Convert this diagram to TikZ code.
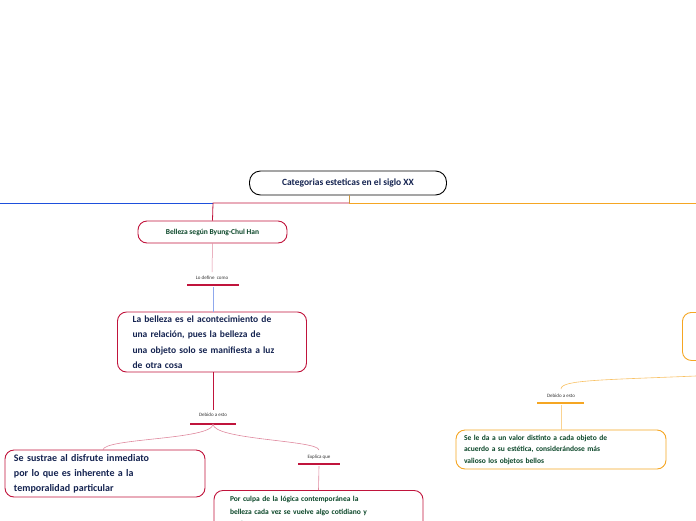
\documentclass[tikz,border=0pt]{standalone}
\usepackage{fontspec}
\setmainfont{Carlito}
\begin{document}
\begin{tikzpicture}[x=1pt,y=-1pt,
  box/.style={draw=#1,line width=0.9pt,rounded corners=9pt,inner sep=0pt,align=left},
  lab/.style={font=\fontsize{5}{6}\selectfont,text=black!80},
  navy/.style={text={rgb,255:red,20;green,35;blue,80},font=\bfseries},
  grn/.style={text={rgb,255:red,10;green,70;blue,40},font=\bfseries}]
\definecolor{cred}{RGB}{192,20,60}
\definecolor{corg}{RGB}{245,166,35}
\definecolor{cblue}{RGB}{30,80,220}
\useasboundingbox (0,0) rectangle (696,520);
\clip (0,0) rectangle (696,520);
\node[box=black,minimum width=197pt,minimum height=24pt,rounded corners=11pt,navy,font=\bfseries\fontsize{9.5}{11}\selectfont] (top) at (348,183) {Categorias esteticas en el siglo XX};
\coordinate (j) at (349,203);
\coordinate (k) at (213,203);
\draw[corg!60!gray,line width=0.8pt] (349,195) -- (j);
\draw[cblue,line width=0.8pt] (0,203) -- (k);
\draw[corg,line width=0.8pt] (j) -- (696,203);
\node[box=cred,minimum width=149pt,minimum height=22pt,grn,font=\bfseries\fontsize{7.5}{9}\selectfont] (b) at (212.5,232) {Belleza según Byung-Chul Han};
\draw[cred,line width=0.8pt] (j) -- (k) -- (b.north);
\node[lab] (l1) at (212,277.5) {Lo define \ como};
\draw[cred,line width=1.2pt] (187,285) -- (239,285);
\draw[cred!50,line width=0.5pt] (b.south) -- (l1.north);
\node[box=cred,text width=189pt,inner xsep=0pt,inner ysep=1pt,minimum height=60pt,navy,font=\bfseries\fontsize{9.5}{15.5}\selectfont] (d) at (212,342) {\hspace*{15pt}La belleza es el acontecimiento de\\\hspace*{15pt}una relación, pues la belleza de\\\hspace*{15pt}una objeto solo se manifiesta a luz\\\hspace*{15pt}de otra cosa};
\draw[cblue!50,line width=0.5pt] (213,287) -- (213,312);
\node[lab] (l2) at (213,415) {Debido a esto};
\draw[cred,line width=1.2pt] (190,424) -- (236,424);
\draw[cred,line width=0.8pt] (213,372) -- (l2.north);
\node[box=cred,text width=200pt,minimum height=47pt,navy,font=\bfseries\fontsize{10}{15}\selectfont] (s) at (105,473.5) {\hspace*{9pt}Se sustrae al disfrute inmediato\\\hspace*{9pt}por lo que es inherente a la\\\hspace*{9pt}temporalidad particular};
\node[lab] (l3) at (319,457) {Explica que};
\draw[cred,line width=1.2pt] (298,464) -- (340,464);
\draw[cred!50,line width=0.6pt] (213,424) .. controls (213,440) and (103,438) .. (103,450);
\draw[cred!50,line width=0.6pt] (213,424) .. controls (213,440) and (318,440) .. (319,450);
\node[box=cred,text width=209pt,inner ysep=6pt,anchor=north,grn,font=\bfseries\fontsize{7.5}{12.5}\selectfont] (p) at (318.5,490) {\hspace*{16pt}Por culpa de la lógica contemporánea la\\\hspace*{16pt}belleza cada vez se vuelve algo cotidiano y\\\hspace*{16pt}vacío\\[10pt]};
\draw[cred!50,line width=0.6pt] (319,466) -- (p.north);
\node[box=corg,minimum width=100pt,minimum height=48pt,anchor=north west] (r) at (682,312) {};
\coordinate (rc) at (696,376);
\node[lab] (l4) at (561,396) {Debido a esto};
\draw[corg,line width=1.2pt] (537,403) -- (584,403);
\draw[corg!70,line width=0.6pt] (rc) .. controls (600,380) and (561,380) .. (561,389);
\node[box=corg,text width=210pt,minimum height=39pt,grn,font=\bfseries\fontsize{7.5}{11.5}\selectfont] (v) at (561,449.5) {\hspace*{8pt}Se le da a un valor distinto a cada objeto de\\\hspace*{8pt}acuerdo a su estética, considerándose más\\\hspace*{8pt}valioso los objetos bellos};
\draw[corg!50,line width=0.6pt] (561,405) -- (v.north);
\end{tikzpicture}
\end{document}
